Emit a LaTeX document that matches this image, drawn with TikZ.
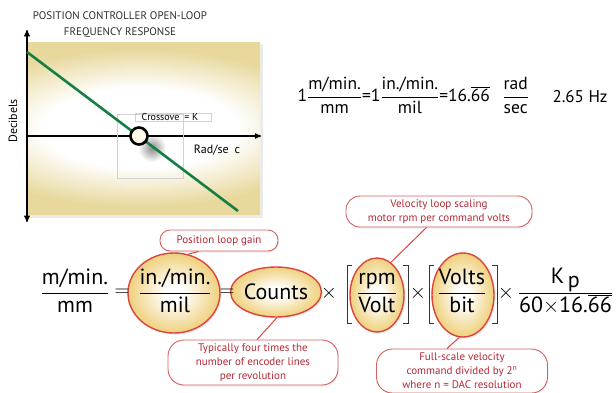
\documentclass[tikz,border=0pt]{standalone}
\usepackage{fontspec}
\setmainfont{PT Sans}
\usetikzlibrary{arrows,shapes.geometric,shadows,fadings}

\definecolor{plottan}{RGB}{232,216,156}
\definecolor{elltan}{RGB}{238,206,118}
\definecolor{ellred}{RGB}{220,68,60}
\definecolor{callred}{RGB}{178,40,52}
\definecolor{callrand}{RGB}{214,96,96}
\definecolor{kurvegruen}{RGB}{22,128,68}
\definecolor{kreisfill}{RGB}{255,251,232}

\pgfdeclareradialshading{ellglow}{\pgfpoint{0bp}{0bp}}{color(0bp)=(white); color(5bp)=(white); color(26bp)=(elltan); color(50bp)=(elltan)}
\pgfdeclareradialshading{plotglow}{\pgfpoint{0bp}{0bp}}{color(0bp)=(white); color(11bp)=(white); color(22bp)=(plottan); color(50bp)=(plottan)}
\tikzfading[name=softspot, inner color=transparent!0, outer color=transparent!100]

\tikzset{
  gross/.style={font=\fontsize{22}{26}\selectfont},
  bruch/.style={ellipse, draw=ellred, line width=1.4pt, shade, shading=ellglow, inner sep=0pt,
    drop shadow={opacity=0.18, shadow xshift=1.5pt, shadow yshift=-1.5pt}},
  hinweis/.style={draw=callrand, line width=0.9pt, fill=white, text=callred, inner sep=0pt,
    align=center, font=\fontsize{11}{14}\selectfont,
    drop shadow={opacity=0.15, shadow xshift=1pt, shadow yshift=-1.5pt}},
  verbinder/.style={ellred, line width=1pt}
}

\begin{document}
\begin{tikzpicture}[>=stealth',x=1pt,y=-1pt]
  \useasboundingbox (0,0) rectangle (616,392);

  %Hintergrund zeichnen
  \fill[black,opacity=0.08] (29,44) rectangle (263,218);
  \begin{scope}
    \clip (27,42) rectangle (260,214);
    \shade[shading=plotglow] (-80,38) rectangle (360,218);
  \end{scope}
  \fill[black,opacity=0.45,path fading=softspot] (152,148) circle (14);

  %Achsen zeichnen
  \draw[<->,line width=1.3pt] (27,222) -- (27,30);
  \draw[->,line width=1.2pt] (27,136) -- (261,136);
  \draw[gray!35,line width=0.4pt] (117,114) rectangle (183,178);
  \draw[gray!35,line width=0.4pt] (135,113) rectangle (211,121);
  \draw[kurvegruen,line width=2.6pt] (27,52) -- (238,211);
  \node[circle,draw,line width=2.6pt,fill=kreisfill,minimum size=17pt,inner sep=0pt] (xover) at (139,136) {};

  \node[align=center,font=\fontsize{11}{16}\selectfont,text=black!82] (titel) at (120,25)
    {POSITION CONTROLLER OPEN-LOOP\\FREQUENCY RESPONSE};
  \node[rotate=90,font=\fontsize{12}{14}\selectfont] (dbachse) at (13,121) {Decibels};
  \node[font=\fontsize{12}{14}\selectfont] (radachse) at (217,150) {Rad/se\enspace c};
  \node[font=\fontsize{10}{12}\selectfont] (xoverlbl) at (170,117) {Crossove\enspace= K};

  %Umrechnung oben
  \node[anchor=base west,font=\fontsize{17.5}{20}\selectfont] (umrechnung) at (294,101.5)
    {$\displaystyle\mbox{1}\frac{\mbox{m/min.}}{\mbox{mm}}\mbox{=1}\frac{\mbox{in./min.}}{\mbox{mil}}\mbox{=16.}\overline{\mbox{66}}\;\;\,\frac{\mbox{rad}}{\mbox{sec}}$};
  \node[anchor=base west,font=\fontsize{17}{20}\selectfont] (hzwert) at (549,102) {2.65 Hz};

  %Ellipsen zeichnen
  \node[bruch,minimum width=92pt,minimum height=80pt] (gainell) at (174,293) {};
  \node[bruch,gross,minimum width=78pt,minimum height=50pt] (countsell) at (276,292) {Counts};
  \node[bruch,minimum width=54pt,minimum height=74pt] (rpmell) at (377,295) {};
  \node[bruch,minimum width=62pt,minimum height=84pt] (voltsell) at (463,295) {};

  %Brueche
  \node[gross,anchor=base] (mmfrac) at (75,298.5) {$\displaystyle\frac{\mbox{m/min.}}{\mbox{mm}}$};
  \node[gross,anchor=base] (gainfrac) at (175,298.5) {$\displaystyle\frac{\mbox{in./min.}}{\mbox{mil}}$};
  \node[gross,anchor=base] (rpmfrac) at (377,298.5) {$\displaystyle\frac{\mbox{rpm}}{\mbox{Volt}}$};
  \node[gross,anchor=base] (voltsfrac) at (462,298.5) {$\displaystyle\frac{\mbox{Volts}}{\mbox{bit}}$};
  \node[gross,anchor=base] (kpfrac) at (565.5,298.5)
    {$\displaystyle\frac{\mbox{K\,}_{\mbox{p}}}{\mbox{60}{\times}\mbox{16.}\overline{\mbox{66}}}$};

  \foreach \x/\name in {122/gleich1,227/gleich2}
    \node[gross] (\name) at (\x,293) {$=$};
  \foreach \x/\name in {329/mal1,418/mal2,506/mal3}
    \node[gross] (\name) at (\x,293) {$\times$};

  %Klammern zeichnen
  \foreach \l/\r in {347/408,429/497}
  {
    \draw[line width=1pt,black!80] (\l+5,265) -- (\l,265) -- (\l,323) -- (\l+5,323);
    \draw[line width=1pt,black!80] (\r-5,265) -- (\r,265) -- (\r,323) -- (\r-5,323);
  }

  %Hinweise
  \node[hinweis,minimum width=118pt,minimum height=21pt,rounded corners=10pt] (gainhinweis) at (219,240.5)
    {Position loop gain};
  \node[hinweis,minimum width=170pt,minimum height=45pt,rounded corners=16pt] (countshinweis) at (253,362.5)
    {Typically four times the\\number of encoder lines\\per revolution};
  \node[hinweis,minimum width=186pt,minimum height=31pt,rounded corners=14pt] (velhinweis) at (439,211.5)
    {Velocity loop scaling\\motor rpm per command volts};
  \node[hinweis,minimum width=171pt,minimum height=44pt,rounded corners=16pt] (dachinweis) at (462,371)
    {Full-scale velocity\\command divided by 2\textsuperscript{n}\\where n = DAC resolution};

  \draw[verbinder] (gainhinweis.-152) -- (gainell.70);
  \draw[verbinder] (countshinweis.80) -- (countsell.-88);
  \draw[verbinder] (velhinweis.-128) -- (rpmell.67);
  \draw[verbinder] (dachinweis.124) -- (voltsell.-95);
\end{tikzpicture}
\end{document}
